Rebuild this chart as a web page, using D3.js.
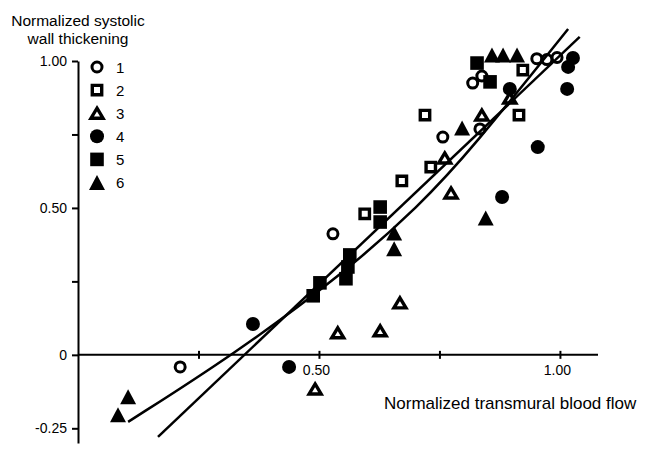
<!DOCTYPE html>
<html>
<head>
<meta charset="utf-8">
<style>
  body { margin: 0; background: #fff; }
  text { font-family: "Liberation Sans", Arial, sans-serif; fill: #000; }
</style>
</head>
<body>
<div id="chartContainer"></div>
<script src="https://cdnjs.cloudflare.com/ajax/libs/d3/7.8.5/d3.min.js"></script>
<script type="text/javascript">
  // values (flow, thickening)
  var openCircles = [[0.212, -0.041], [0.529, 0.412], [0.757, 0.741], [0.834, 0.769],
    [0.819, 0.925], [0.838, 0.949], [0.952, 1.008], [0.973, 1.005], [0.994, 1.012]];
  var openSquares = [[0.923, 0.969], [0.720, 0.816], [0.915, 0.816], [0.732, 0.639],
    [0.672, 0.592], [0.595, 0.480]];
  var openTriangles = [[0.896, 0.874], [0.838, 0.816], [0.761, 0.670], [0.774, 0.551],
    [0.668, 0.177], [0.627, 0.082], [0.539, 0.075], [0.492, -0.116]];
  var filledCircles = [[1.027, 1.010], [1.017, 0.980], [1.015, 0.905], [0.896, 0.905],
    [0.954, 0.707], [0.880, 0.537], [0.363, 0.105], [0.438, -0.041]];
  var filledSquares = [[0.828, 0.993], [0.855, 0.929], [0.627, 0.503], [0.627, 0.452],
    [0.564, 0.340], [0.560, 0.299], [0.556, 0.259], [0.502, 0.245], [0.488, 0.201]];
  var filledTriangles = [[0.859, 1.020], [0.882, 1.020], [0.911, 1.020], [0.797, 0.772],
    [0.846, 0.466], [0.656, 0.415], [0.656, 0.361], [0.104, -0.143], [0.083, -0.204]];

  // the two regression lines, points read along each of them
  var curveFit = [[0.104, -0.228], [0.322, 0], [0.548, 0.272], [0.710, 0.510],
    [0.817, 0.700], [1.017, 1.109]];
  var lineFit = [[0.166, -0.279], [1.041, 1.082]];

  var xTicks = [0.25, 0.5, 0.75, 1.0];
  var xTickLabels = {"0.5": "0.50", "1": "1.00"};
  var yTicks = [1.0, 0.75, 0.5, 0.25, 0, -0.25];
  var yTickLabels = {"1": "1.00", "0.5": "0.50", "0": "0", "-0.25": "-0.25"};
  var legendLabels = ["1", "2", "3", "4", "5", "6"];

  var svg = d3.select("#chartContainer").append("svg")
    .attr("width", 645)
    .attr("height", 450);

  var x = d3.scaleLinear().domain([0, 1.079]).range([78, 598]);
  var y = d3.scaleLinear().domain([-0.30, 1.0]).range([443, 61]);

  // marker shapes
  function shape(kind) {
    return function () {
      var p = d3.path();
      if (kind === "oc") { p.arc(0, 0, 5, 0, 2 * Math.PI); }
      else if (kind === "fc") { p.arc(0, 0, 7, 0, 2 * Math.PI); }
      else if (kind === "os") { p.rect(-4.7, -4.7, 9.4, 9.4); }
      else if (kind === "fs") { p.rect(-6.8, -6.8, 13.6, 13.6); }
      else if (kind === "ot") { p.moveTo(0, -5); p.lineTo(6, 5); p.lineTo(-6, 5); p.closePath(); }
      else { p.moveTo(0, -7.5); p.lineTo(8, 7.5); p.lineTo(-8, 7.5); p.closePath(); }
      return p.toString();
    };
  }
  function styleMarker(sel, kind) {
    var open = kind.charAt(0) === "o";
    sel.attr("d", shape(kind))
      .style("fill", open ? "#fff" : "#000")
      .style("stroke", open ? "#000" : "none")
      .style("stroke-width", open ? (kind === "oc" ? 3 : 3.4) : 0)
      .style("stroke-linejoin", "miter");
  }

  var seriesList = [
    {kind: "oc", data: openCircles},
    {kind: "os", data: openSquares},
    {kind: "ot", data: openTriangles},
    {kind: "fc", data: filledCircles},
    {kind: "fs", data: filledSquares},
    {kind: "ft", data: filledTriangles}
  ];

  // axes
  var yAxis = d3.axisLeft(y)
    .tickValues(yTicks)
    .tickSizeInner(6)
    .tickSizeOuter(0)
    .tickFormat(function (d) { return yTickLabels[String(d)] || ""; });
  var gy = svg.append("g").attr("transform", "translate(" + x(0) + ",0)").call(yAxis);
  gy.select(".domain").attr("stroke-width", 2);
  gy.selectAll(".tick line").attr("stroke-width", 2);
  gy.selectAll(".tick text")
    .attr("x", -11)
    .style("font-size", "14px")
    .style("font-family", "'Liberation Sans', Arial, sans-serif");

  var xAxis = d3.axisBottom(x)
    .tickValues(xTicks)
    .tickSizeInner(4)
    .tickSizeOuter(0)
    .tickFormat(function (d) { return xTickLabels[String(d)] || ""; });
  var gx = svg.append("g").attr("transform", "translate(0," + y(0) + ")").call(xAxis);
  gx.select(".domain").attr("stroke-width", 2).attr("d", "M" + x(0) + ",0H" + x(1.079));
  gx.selectAll(".tick line").attr("y1", -4).attr("stroke-width", 2);
  gx.selectAll(".tick text")
    .attr("y", 20).attr("dy", 0).attr("dx", -3)
    .style("font-size", "14px")
    .style("font-family", "'Liberation Sans', Arial, sans-serif");

  // axis titles
  svg.append("text")
    .attr("x", 384).attr("y", 409)
    .style("font-size", "17px")
    .text("Normalized transmural blood flow");
  svg.selectAll(".ytitle")
    .data(["Normalized systolic", "wall thickening"])
    .enter()
    .append("text")
      .attr("x", 78)
      .attr("y", function (d, i) { return 26 + i * 18; })
      .attr("text-anchor", "middle")
      .style("font-size", "15.5px")
      .text(function (d) { return d; });

  // points
  seriesList.forEach(function (s) {
    svg.append("g").selectAll("path")
      .data(s.data)
      .enter()
      .append("path")
        .attr("transform", function (d) { return "translate(" + x(d[0]) + "," + y(d[1]) + ")"; })
        .call(styleMarker, s.kind);
  });

  // fits
  var line = d3.line()
    .x(function (d) { return x(d[0]); })
    .y(function (d) { return y(d[1]); });
  svg.append("path")
    .attr("d", line.curve(d3.curveBasis)(curveFit))
    .style("fill", "none").style("stroke", "#000").style("stroke-width", 2.5);
  svg.append("path")
    .attr("d", line.curve(d3.curveLinear)(lineFit))
    .style("fill", "none").style("stroke", "#000").style("stroke-width", 2.5);

  // legend
  var legend = svg.append("g");
  seriesList.forEach(function (s, i) {
    var ly = 67 + i * 23.1;
    legend.append("path")
      .attr("transform", "translate(97," + ly + ")")
      .call(styleMarker, s.kind);
    legend.append("text")
      .attr("x", 116).attr("y", ly + 5.5)
      .style("font-size", "15px")
      .text(legendLabels[i]);
  });
</script>
</body>
</html>
